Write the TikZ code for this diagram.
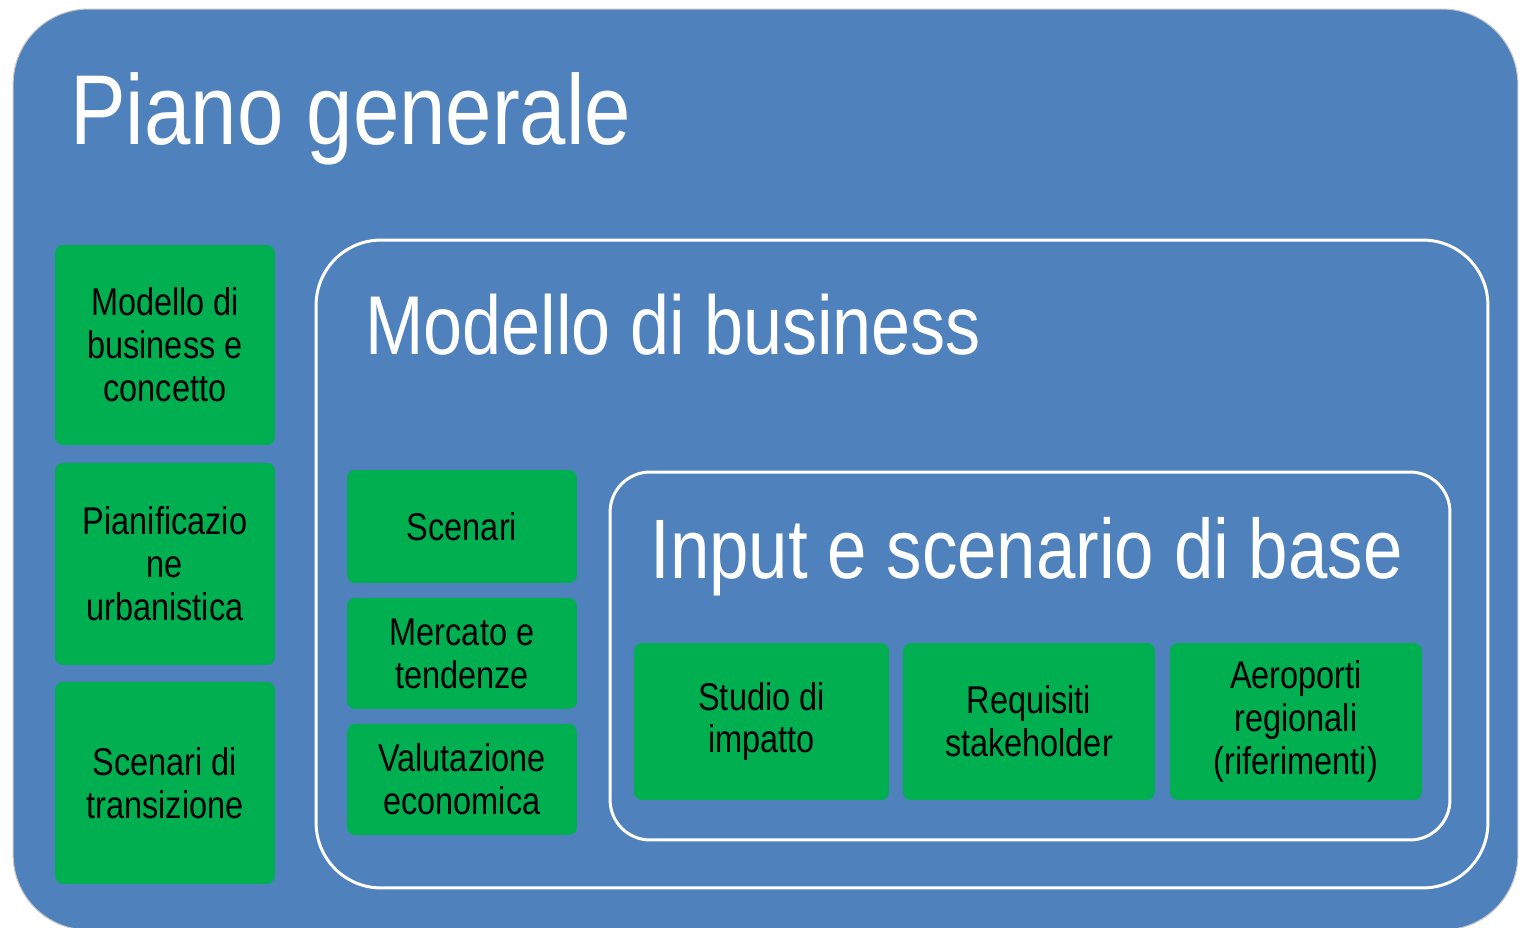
\documentclass[tikz,border=0pt]{standalone}
\usepackage{fontspec}
\setmainfont{Liberation Sans}
\newfontfamily\narrowfont[FakeStretch=0.84]{Liberation Sans}
\usepackage{xcolor}
\usepackage{tikz}
\usetikzlibrary{positioning}
\definecolor{planblue}{RGB}{79,129,189}
\definecolor{boxgreen}{RGB}{0,176,80}
\tikzstyle{plan} = [rectangle, rounded corners=1.5cm, draw=gray!45, line width=0.6pt, fill=planblue, inner sep=0pt]
\tikzstyle{frame} = [rectangle, draw=white, line width=1.7pt, inner sep=0pt]
\tikzstyle{title} = [anchor=base west, text=white, inner sep=0pt]
\tikzstyle{greenbox} = [rectangle, rounded corners=0.16cm, fill=boxgreen, text=black, align=center, inner sep=0pt, outer sep=0pt, font=\narrowfont\fontsize{22}{24.4}\selectfont]

\begin{document}
\begin{tikzpicture}[x=0.02cm, y=-0.02cm]
    \useasboundingbox (0,0) rectangle (1520,928);
    \begin{scope}
    \clip (0,0) rectangle (1520,928);
    \node[plan, minimum width=30.1cm, minimum height=18.42cm] (piano) at (765.5,469.5) {};
    \end{scope}
    \node[title, font=\narrowfont\fontsize{56.5}{60}\selectfont] (pianotitle) at (70,145) {Piano generale};

    % colonna sinistra
    \node[greenbox, minimum width=4.4cm, minimum height=4cm] (concetto) at (165,345) {Modello di\\business e\\concetto};
    \node[greenbox, minimum width=4.4cm, minimum height=4.04cm, below=0.36cm of concetto] (urban) {Pianificazio\\ne\\urbanistica};
    \node[greenbox, minimum width=4.4cm, minimum height=4.04cm, below=0.34cm of urban] (transiz) {Scenari di\\transizione};

    % modello di business
    \node[frame, rounded corners=1.3cm, minimum width=23.44cm, minimum height=12.96cm] (business) at (902,564) {};
    \node[title, font=\narrowfont\fontsize{47.5}{50}\selectfont] (businesstitle) at (365,355) {Modello di business};
    \node[greenbox, minimum width=4.6cm, minimum height=2.26cm] (scenari) at (462,526.5) {Scenari};
    \node[greenbox, minimum width=4.6cm, minimum height=2.22cm, below=0.3cm of scenari] (mercato) {Mercato e\\tendenze};
    \node[greenbox, minimum width=4.6cm, minimum height=2.22cm, below=0.3cm of mercato] (valutaz) {Valutazione\\economica};

    % input e scenario di base
    \node[frame, rounded corners=0.8cm, minimum width=16.8cm, minimum height=7.36cm] (input) at (1030,656) {};
    \node[title, font=\narrowfont\fontsize{48}{50}\selectfont] (inputtitle) at (650,578) {Input e scenario di base};
    \node[greenbox, minimum width=5.1cm, minimum height=3.14cm] (impatto) at (761.5,721.5) {Studio di\\impatto};
    \node[greenbox, minimum width=5.04cm, minimum height=3.14cm, right=0.28cm of impatto] (stake) {Requisiti\\stakeholder};
    \node[greenbox, minimum width=5.04cm, minimum height=3.14cm, right=0.3cm of stake] (aeroporti) {Aeroporti\\regionali\\(riferimenti)};
\end{tikzpicture}
\end{document}
